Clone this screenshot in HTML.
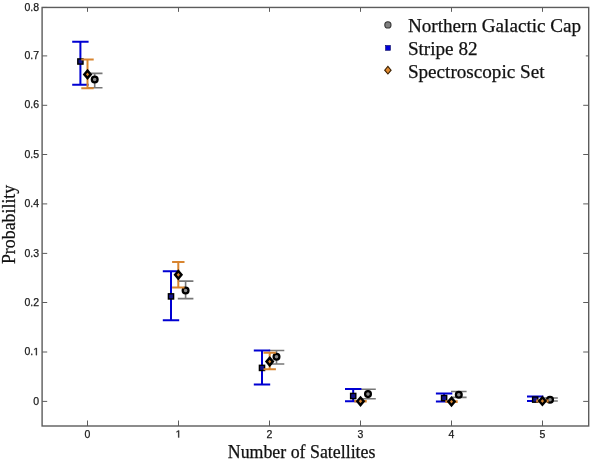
<!DOCTYPE html>
<html><head><meta charset="utf-8"><style>
html,body{margin:0;padding:0;background:#fff;}
svg{display:block;will-change:transform;filter:blur(0.4px);}
.tk{font-family:"Liberation Sans",sans-serif;font-size:10.5px;fill:#1a1a1a;stroke:#1a1a1a;stroke-width:0.25px;}
.lg{font-family:"Liberation Serif",serif;font-size:19.15px;fill:#111;stroke:#111;stroke-width:0.25px;}
.al{font-family:"Liberation Serif",serif;font-size:17.85px;fill:#111;stroke:#111;stroke-width:0.25px;}
</style></head><body>
<svg width="600" height="462" viewBox="0 0 600 462">
<rect x="42.1" y="7.45" width="546.60" height="418.55" fill="none" stroke="#5c5c5c" stroke-width="1.4"/>
<line x1="87.50" y1="426.0" x2="87.50" y2="420.5" stroke="#5c5c5c" stroke-width="1"/>
<line x1="87.50" y1="7.45" x2="87.50" y2="11.850000000000001" stroke="#5c5c5c" stroke-width="1"/>
<text x="84.58" y="437.60" class="tk">0</text>
<line x1="178.50" y1="426.0" x2="178.50" y2="420.5" stroke="#5c5c5c" stroke-width="1"/>
<line x1="178.50" y1="7.45" x2="178.50" y2="11.850000000000001" stroke="#5c5c5c" stroke-width="1"/>
<path class="tk" transform="translate(175.58 437.60) scale(0.005127 -0.005127)" style="stroke-width:48.8px" d="M515 0L515 1237L197 1010L197 1180L530 1409L696 1409L696 0Z"/>
<line x1="269.50" y1="426.0" x2="269.50" y2="420.5" stroke="#5c5c5c" stroke-width="1"/>
<line x1="269.50" y1="7.45" x2="269.50" y2="11.850000000000001" stroke="#5c5c5c" stroke-width="1"/>
<text x="266.58" y="437.60" class="tk">2</text>
<line x1="360.50" y1="426.0" x2="360.50" y2="420.5" stroke="#5c5c5c" stroke-width="1"/>
<line x1="360.50" y1="7.45" x2="360.50" y2="11.850000000000001" stroke="#5c5c5c" stroke-width="1"/>
<text x="357.58" y="437.60" class="tk">3</text>
<line x1="451.50" y1="426.0" x2="451.50" y2="420.5" stroke="#5c5c5c" stroke-width="1"/>
<line x1="451.50" y1="7.45" x2="451.50" y2="11.850000000000001" stroke="#5c5c5c" stroke-width="1"/>
<text x="448.58" y="437.60" class="tk">4</text>
<line x1="542.50" y1="426.0" x2="542.50" y2="420.5" stroke="#5c5c5c" stroke-width="1"/>
<line x1="542.50" y1="7.45" x2="542.50" y2="11.850000000000001" stroke="#5c5c5c" stroke-width="1"/>
<text x="539.58" y="437.60" class="tk">5</text>
<line x1="42.1" y1="401.40" x2="47.2" y2="401.40" stroke="#5c5c5c" stroke-width="1"/>
<line x1="588.7" y1="401.40" x2="583.20" y2="401.40" stroke="#5c5c5c" stroke-width="1"/>
<text x="33.26" y="404.55" class="tk">0</text>
<line x1="42.1" y1="352.00" x2="47.2" y2="352.00" stroke="#5c5c5c" stroke-width="1"/>
<line x1="588.7" y1="352.00" x2="583.20" y2="352.00" stroke="#5c5c5c" stroke-width="1"/>
<text x="24.50" y="355.15" class="tk">0.</text>
<path class="tk" transform="translate(33.26 355.15) scale(0.005127 -0.005127)" style="stroke-width:48.8px" d="M515 0L515 1237L197 1010L197 1180L530 1409L696 1409L696 0Z"/>
<line x1="42.1" y1="302.50" x2="47.2" y2="302.50" stroke="#5c5c5c" stroke-width="1"/>
<line x1="588.7" y1="302.50" x2="583.20" y2="302.50" stroke="#5c5c5c" stroke-width="1"/>
<text x="24.50" y="305.65" class="tk">0.2</text>
<line x1="42.1" y1="253.40" x2="47.2" y2="253.40" stroke="#5c5c5c" stroke-width="1"/>
<line x1="588.7" y1="253.40" x2="583.20" y2="253.40" stroke="#5c5c5c" stroke-width="1"/>
<text x="24.50" y="256.55" class="tk">0.3</text>
<line x1="42.1" y1="203.90" x2="47.2" y2="203.90" stroke="#5c5c5c" stroke-width="1"/>
<line x1="588.7" y1="203.90" x2="583.20" y2="203.90" stroke="#5c5c5c" stroke-width="1"/>
<text x="24.50" y="207.05" class="tk">0.4</text>
<line x1="42.1" y1="154.50" x2="47.2" y2="154.50" stroke="#5c5c5c" stroke-width="1"/>
<line x1="588.7" y1="154.50" x2="583.20" y2="154.50" stroke="#5c5c5c" stroke-width="1"/>
<text x="24.50" y="157.65" class="tk">0.5</text>
<line x1="42.1" y1="105.30" x2="47.2" y2="105.30" stroke="#5c5c5c" stroke-width="1"/>
<line x1="588.7" y1="105.30" x2="583.20" y2="105.30" stroke="#5c5c5c" stroke-width="1"/>
<text x="24.50" y="108.45" class="tk">0.6</text>
<line x1="42.1" y1="55.90" x2="47.2" y2="55.90" stroke="#5c5c5c" stroke-width="1"/>
<line x1="588.7" y1="55.90" x2="585.80" y2="55.90" stroke="#5c5c5c" stroke-width="1"/>
<text x="24.50" y="59.05" class="tk">0.7</text>
<line x1="42.1" y1="7.45" x2="47.2" y2="7.45" stroke="#5c5c5c" stroke-width="1"/>
<text x="24.50" y="10.60" class="tk">0.8</text>
<path d="M94.70 73.40V87.70M86.90 73.40H102.50M86.90 87.70H102.50" stroke="#777777" stroke-width="1.6" fill="none"/>
<path d="M185.60 281.10V298.60M177.80 281.10H193.40M177.80 298.60H193.40" stroke="#777777" stroke-width="1.6" fill="none"/>
<path d="M276.50 350.50V364.00M268.70 350.50H284.30M268.70 364.00H284.30" stroke="#777777" stroke-width="1.6" fill="none"/>
<path d="M368.00 389.20V398.80M360.20 389.20H375.80M360.20 398.80H375.80" stroke="#777777" stroke-width="1.6" fill="none"/>
<path d="M458.80 391.50V397.40M451.00 391.50H466.60M451.00 397.40H466.60" stroke="#777777" stroke-width="1.6" fill="none"/>
<path d="M550.00 398.00V401.00M542.20 398.00H557.80M542.20 401.00H557.80" stroke="#777777" stroke-width="1.6" fill="none"/>
<circle cx="94.70" cy="79.50" r="2.9" fill="#8a8a8a" stroke="#000" stroke-width="2.25"/>
<circle cx="185.60" cy="290.50" r="2.9" fill="#8a8a8a" stroke="#000" stroke-width="2.25"/>
<circle cx="276.50" cy="356.80" r="2.9" fill="#8a8a8a" stroke="#000" stroke-width="2.25"/>
<circle cx="368.00" cy="394.10" r="2.9" fill="#8a8a8a" stroke="#000" stroke-width="2.25"/>
<circle cx="458.80" cy="394.80" r="2.9" fill="#8a8a8a" stroke="#000" stroke-width="2.25"/>
<circle cx="550.00" cy="399.70" r="2.9" fill="#8a8a8a" stroke="#000" stroke-width="2.25"/>
<path d="M80.40 41.70V84.70M72.20 41.70H88.60M72.20 84.70H88.60" stroke="#0000d2" stroke-width="2.0" fill="none"/>
<path d="M171.00 271.20V320.30M162.80 271.20H179.20M162.80 320.30H179.20" stroke="#0000d2" stroke-width="2.0" fill="none"/>
<path d="M262.00 350.50V384.60M253.80 350.50H270.20M253.80 384.60H270.20" stroke="#0000d2" stroke-width="2.0" fill="none"/>
<path d="M353.20 389.00V401.30M345.00 389.00H361.40M345.00 401.30H361.40" stroke="#0000d2" stroke-width="2.0" fill="none"/>
<path d="M444.10 393.60V401.50M435.90 393.60H452.30M435.90 401.50H452.30" stroke="#0000d2" stroke-width="2.0" fill="none"/>
<path d="M535.20 396.60V401.10M527.00 396.60H543.40M527.00 401.10H543.40" stroke="#0000d2" stroke-width="2.0" fill="none"/>
<rect x="77.80" y="58.90" width="5.2" height="5.2" fill="#14148c" stroke="#000" stroke-width="1.4"/>
<rect x="168.40" y="293.80" width="5.2" height="5.2" fill="#14148c" stroke="#000" stroke-width="1.4"/>
<rect x="259.40" y="365.30" width="5.2" height="5.2" fill="#14148c" stroke="#000" stroke-width="1.4"/>
<rect x="350.60" y="393.40" width="5.2" height="5.2" fill="#14148c" stroke="#000" stroke-width="1.4"/>
<rect x="441.50" y="395.50" width="5.2" height="5.2" fill="#14148c" stroke="#000" stroke-width="1.4"/>
<rect x="532.60" y="397.00" width="5.2" height="5.2" fill="#14148c" stroke="#000" stroke-width="1.4"/>
<path d="M87.50 59.60V88.20M81.30 59.60H93.70M81.30 88.20H93.70" stroke="#d88530" stroke-width="2.0" fill="none"/>
<path d="M178.30 262.00V287.50M172.10 262.00H184.50M172.10 287.50H184.50" stroke="#d88530" stroke-width="2.0" fill="none"/>
<path d="M269.70 352.80V369.20M263.50 352.80H275.90M263.50 369.20H275.90" stroke="#d88530" stroke-width="2.0" fill="none"/>
<path d="M360.50 401.00V401.60M354.30 401.00H366.70M354.30 401.60H366.70" stroke="#d88530" stroke-width="2.0" fill="none"/>
<path d="M451.50 401.30V401.90M445.30 401.30H457.70M445.30 401.90H457.70" stroke="#d88530" stroke-width="2.0" fill="none"/>
<path d="M542.40 400.60V401.40M536.20 400.60H548.60M536.20 401.40H548.60" stroke="#d88530" stroke-width="2.0" fill="none"/>
<path d="M87.50 70.65L90.70 74.40L87.50 78.15L84.30 74.40Z" fill="#d88530" stroke="#000" stroke-width="2.4" stroke-linejoin="miter"/>
<path d="M178.30 271.05L181.50 274.80L178.30 278.55L175.10 274.80Z" fill="#d88530" stroke="#000" stroke-width="2.4" stroke-linejoin="miter"/>
<path d="M269.70 357.85L272.90 361.60L269.70 365.35L266.50 361.60Z" fill="#d88530" stroke="#000" stroke-width="2.4" stroke-linejoin="miter"/>
<path d="M360.50 397.55L363.70 401.30L360.50 405.05L357.30 401.30Z" fill="#d88530" stroke="#000" stroke-width="2.4" stroke-linejoin="miter"/>
<path d="M451.50 397.85L454.70 401.60L451.50 405.35L448.30 401.60Z" fill="#d88530" stroke="#000" stroke-width="2.4" stroke-linejoin="miter"/>
<path d="M542.40 397.25L545.60 401.00L542.40 404.75L539.20 401.00Z" fill="#d88530" stroke="#000" stroke-width="2.4" stroke-linejoin="miter"/>
<circle cx="387.9" cy="24.9" r="3.1" fill="#808080" stroke="#333" stroke-width="1.1"/>
<rect x="385.6" y="45.5" width="4.8" height="4.8" fill="#0000d8" stroke="#000060" stroke-width="0.6"/>
<path d="M387.9 66.4L391.1 70.2L387.9 74L384.7 70.2Z" fill="#e08a30" stroke="#3a2000" stroke-width="1.1"/>
<text x="407.9" y="31.7" class="lg">Northern Galactic Cap</text>
<text x="407.9" y="54.8" class="lg">Stripe 82</text>
<text x="407.9" y="77.7" class="lg">Spectroscopic Set</text>
<text x="301.6" y="458" class="al" text-anchor="middle">Number of Satellites</text>
<text transform="translate(15.2 224.4) rotate(-90)" class="al" text-anchor="middle">Probability</text>
</svg>
</body></html>
